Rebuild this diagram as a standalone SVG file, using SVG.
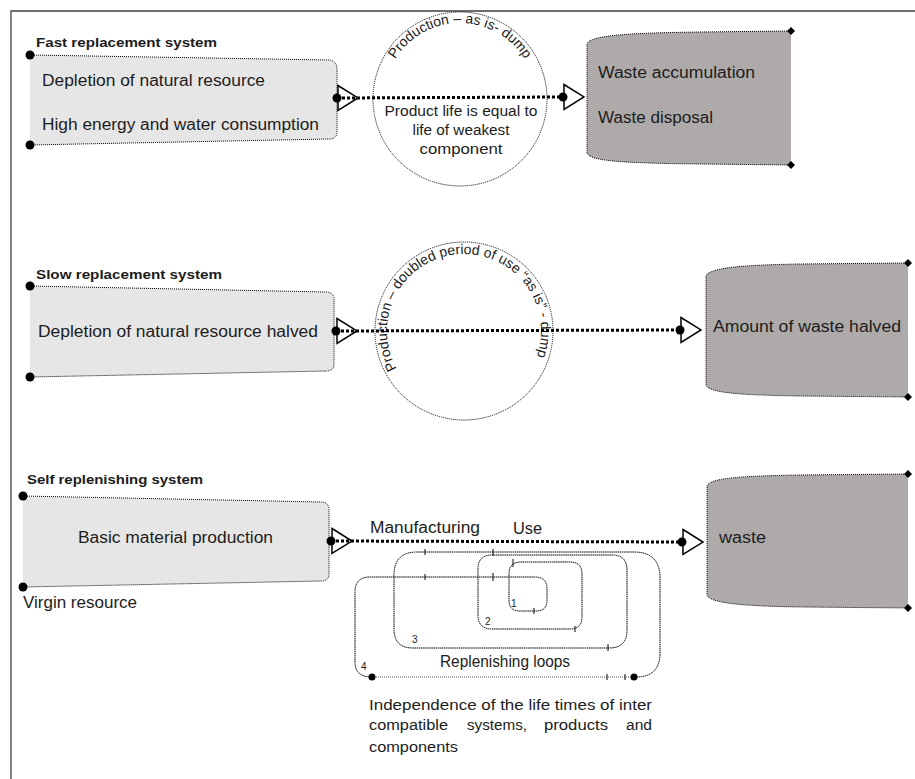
<svg xmlns="http://www.w3.org/2000/svg" xmlns:xlink="http://www.w3.org/1999/xlink" width="915" height="779" viewBox="0 0 915 779">
  <style>
    .t { font-family: "Liberation Sans", Arial, sans-serif; font-size: 16px; fill: #1c1c1c; }
    .h { font-weight: bold; font-size: 13.5px; }
    .s { font-size: 14px; }
    .c { font-size: 14px; }
    .n { font-size: 10px; }
    .lb { fill: #e7e6e6; }
    .rb { fill: #aeaaaa; }
    .edge { fill: none; stroke: #000; stroke-width: 1; stroke-dasharray: 1 1; }
    .ring { fill: none; stroke: #000; stroke-width: 1; stroke-dasharray: 1 1; }
    .flow { fill: none; stroke: #000; stroke-width: 3; stroke-dasharray: 3 2; marker-start: url(#tip); marker-end: url(#tip); }
    .loop { fill: none; stroke: #000; stroke-width: 1; stroke-dasharray: 1.5 0.6; }
    .tick { stroke: #000; stroke-width: 1; }
  </style>
  <defs>
    <!-- dot with open triangle pointing along the flow -->
    <marker id="tip" markerUnits="userSpaceOnUse" viewBox="-6 -15 30 30" refX="0" refY="0" markerWidth="30" markerHeight="30" orient="auto" overflow="visible">
      <circle r="4.5" fill="#000"/>
      <path d="M1,-12.5 L21,0 L1,12.5 Z" fill="none" stroke="#000" stroke-width="1.5"/>
    </marker>
    <circle id="dot" r="4.5" fill="#000"/>
    <path id="dia" d="M0,-4 L4,0 L0,4 L-4,0 Z" fill="#000"/>
    <!-- baselines for curved captions, starting at the bottom, running clockwise -->
    <path id="arc1" d="M460,175 A76,76 0 1 1 460,23 A76,76 0 1 1 460,175"/>
    <path id="arc2" d="M464,408 A77,77 0 1 1 464,254 A77,77 0 1 1 464,408"/>
  </defs>

  <!-- frame -->
  <path d="M11,779 L11,11 L915,11" fill="none" stroke="#404040" stroke-width="1.3"/>

  <!-- ===== Fast replacement system ===== -->
  <g id="fast-title">
    <text class="t h" x="36" y="47" textLength="181" lengthAdjust="spacingAndGlyphs">Fast replacement system</text>
  </g>
  <g id="fast-source">
    <path class="lb" d="M30,55 L329,60 Q337,61 337,69 L337,132 Q337,139 329,139 L30,145 Z"/>
    <path class="edge" d="M30,55 L329,60 Q337,61 337,69 L337,132 Q337,139 329,139 L30,145"/>
    <use xlink:href="#dot" x="30" y="55"/>
    <use xlink:href="#dot" x="30" y="145"/>
    <text class="t" x="42" y="86" textLength="223" lengthAdjust="spacingAndGlyphs">Depletion of natural resource</text>
    <text class="t" x="42" y="130" textLength="277" lengthAdjust="spacingAndGlyphs">High energy and water consumption</text>
  </g>
  <g id="fast-process">
    <circle class="ring" cx="460" cy="99" r="87"/>
    <text class="t c"><textPath xlink:href="#arc1" startOffset="50%" text-anchor="middle">Production – as is- dump</textPath></text>
    <text class="t s" x="461" y="116" text-anchor="middle" textLength="153" lengthAdjust="spacingAndGlyphs">Product life is equal to</text>
    <text class="t s" x="461" y="135" text-anchor="middle" textLength="97" lengthAdjust="spacingAndGlyphs">life of weakest</text>
    <text class="t s" x="461" y="154" text-anchor="middle" textLength="83" lengthAdjust="spacingAndGlyphs">component</text>
  </g>
  <g id="fast-sink">
    <path class="rb" d="M587,44 C590,36 620,33 700,32 L791,31 L791,165 L700,164 C620,163 590,161 587,153 Z"/>
    <path class="edge" d="M791,31 L700,32 C620,33 590,36 587,44 L587,153 C590,161 620,163 700,164 L791,165"/>
    <use xlink:href="#dia" x="791" y="31"/>
    <use xlink:href="#dia" x="791" y="165"/>
    <text class="t" x="598" y="78" textLength="157" lengthAdjust="spacingAndGlyphs">Waste accumulation</text>
    <text class="t" x="598" y="123" textLength="115" lengthAdjust="spacingAndGlyphs">Waste disposal</text>
  </g>

  <!-- ===== Slow replacement system ===== -->
  <g id="slow-title">
    <text class="t h" x="36" y="279" textLength="186" lengthAdjust="spacingAndGlyphs">Slow replacement system</text>
  </g>
  <g id="slow-source">
    <path class="lb" d="M30,286 L326,292 Q334,292 334,300 L334,364 Q334,371 326,371 L30,377 Z"/>
    <path class="edge" d="M30,286 L326,292 Q334,292 334,300 L334,364 Q334,371 326,371 L30,377"/>
    <use xlink:href="#dot" x="30" y="286"/>
    <use xlink:href="#dot" x="30" y="377"/>
    <text class="t" x="38" y="337" textLength="280" lengthAdjust="spacingAndGlyphs">Depletion of natural resource  halved</text>
  </g>
  <g id="slow-process">
    <circle class="ring" cx="464" cy="331" r="89"/>
    <text class="t c"><textPath xlink:href="#arc2" startOffset="48.6%" text-anchor="middle">Production – doubled period of use “as is” - dump</textPath></text>
  </g>
  <g id="slow-sink">
    <path class="rb" d="M706,276 C709,268 740,265 800,264 L908,263 L908,397 L800,396 C740,395 709,393 706,385 Z"/>
    <path class="edge" d="M908,263 L800,264 C740,265 709,268 706,276 L706,385 C709,393 740,395 800,396 L908,397"/>
    <use xlink:href="#dia" x="908" y="263"/>
    <use xlink:href="#dia" x="908" y="397"/>
    <text class="t" x="713" y="332" textLength="188" lengthAdjust="spacingAndGlyphs">Amount of waste halved</text>
  </g>

  <!-- ===== Self replenishing system ===== -->
  <g id="self-title">
    <text class="t h" x="27" y="484" textLength="176" lengthAdjust="spacingAndGlyphs">Self replenishing system</text>
  </g>
  <g id="self-source">
    <path class="lb" d="M23,496 L321,502 Q329,502 329,510 L329,574 Q329,581 321,581 L23,587 Z"/>
    <path class="edge" d="M23,496 L321,502 Q329,502 329,510 L329,574 Q329,581 321,581 L23,587"/>
    <use xlink:href="#dot" x="23" y="496"/>
    <use xlink:href="#dot" x="23" y="587"/>
    <text class="t" x="78" y="543" textLength="195" lengthAdjust="spacingAndGlyphs">Basic material production</text>
    <text class="t" x="23" y="608" textLength="114" lengthAdjust="spacingAndGlyphs">Virgin resource</text>
  </g>
  <g id="self-sink">
    <path class="rb" d="M707,486 C710,478 740,476 800,475 L908,474 L908,608 L800,607 C740,606 710,603 707,595 Z"/>
    <path class="edge" d="M908,474 L800,475 C740,476 710,478 707,486 L707,595 C710,603 740,606 800,607 L908,608"/>
    <use xlink:href="#dia" x="908" y="474"/>
    <use xlink:href="#dia" x="908" y="608"/>
    <text class="t" x="719" y="543" textLength="47" lengthAdjust="spacingAndGlyphs">waste</text>
  </g>
  <g id="replenishing-loops">
    <!-- one continuous spiral: loop 1 inside, loop 4 outside -->
    <path class="loop" d="M372,677 Q355,677 355,662 L355,592 Q355,577 370,577 L535,577 Q547,577 547,589 L547,600 Q547,611 536,611 L520,611 Q509,611 509,600 L509,574 Q509,562 521,562 L570,562 Q582,562 582,574 L582,617 Q582,629 570,629 L492,629 Q478,629 478,615 L478,569 Q478,555 492,555 L612,555 Q627,555 627,570 L627,630 Q627,648 609,648 L413,648 Q394,648 394,629 L394,575 Q394,552 417,552 L634,552 Q660,552 660,578 L660,653 Q660,677 636,677"/>
    <path d="M372,677 L634,677" fill="none" stroke="#555" stroke-width="1" stroke-dasharray="1 1"/>
    <circle cx="372" cy="677" r="3.5" fill="#000"/>
    <circle cx="634" cy="677" r="3.5" fill="#000"/>
    <line class="tick" x1="493" y1="549" x2="493" y2="556"/>
    <line class="tick" x1="513" y1="559" x2="513" y2="567"/>
    <line class="tick" x1="493" y1="573" x2="493" y2="581"/>
    <line class="tick" x1="425" y1="549" x2="425" y2="555"/>
    <line class="tick" x1="425" y1="574" x2="425" y2="580"/>
    <line class="tick" x1="534" y1="608" x2="534" y2="614"/>
    <line class="tick" x1="575" y1="626" x2="575" y2="632"/>
    <line class="tick" x1="608" y1="644" x2="608" y2="651"/>
    <line class="tick" x1="607" y1="674" x2="607" y2="680"/>
    <line class="tick" x1="625" y1="674" x2="625" y2="680"/>
    <text class="t n" x="511" y="607">1</text>
    <text class="t n" x="485" y="625">2</text>
    <text class="t n" x="412" y="643">3</text>
    <text class="t n" x="361" y="670">4</text>
    <text class="t" x="440" y="667" textLength="130" lengthAdjust="spacingAndGlyphs">Replenishing loops</text>
  </g>
  <g id="independence-note">
    <text class="t s" x="369" y="710" textLength="283" lengthAdjust="spacingAndGlyphs">Independence of the life times of inter</text>
    <text class="t s" x="369" y="730" textLength="79" lengthAdjust="spacingAndGlyphs">compatible</text>
    <text class="t s" x="467" y="730" textLength="60" lengthAdjust="spacingAndGlyphs">systems,</text>
    <text class="t s" x="544" y="730" textLength="64" lengthAdjust="spacingAndGlyphs">products</text>
    <text class="t s" x="626" y="730" textLength="26" lengthAdjust="spacingAndGlyphs">and</text>
    <text class="t s" x="369" y="752" textLength="89" lengthAdjust="spacingAndGlyphs">components</text>
  </g>

  <!-- ===== flow connectors ===== -->
  <g id="connectors">
    <path class="flow" d="M337,98 L563,97"/>
    <path class="flow" d="M336,331 L680,330"/>
    <path class="flow" d="M331,541 L682,542"/>
    <text class="t" x="370" y="533" textLength="110" lengthAdjust="spacingAndGlyphs">Manufacturing</text>
    <text class="t" x="513" y="534" textLength="29" lengthAdjust="spacingAndGlyphs">Use</text>
  </g>
</svg>
